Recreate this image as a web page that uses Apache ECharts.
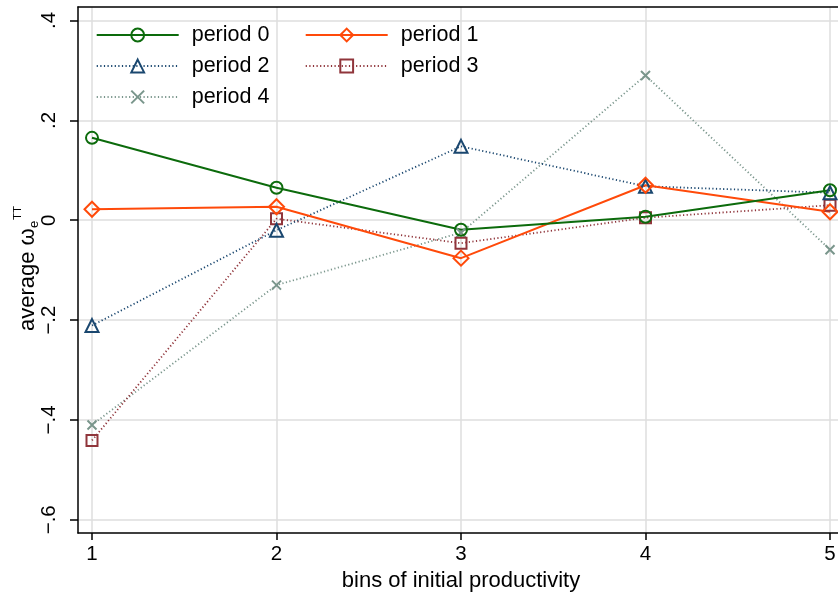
<meta charset="utf-8">
<script src="https://cdn.jsdelivr.net/npm/echarts/dist/echarts.min.js"></script>
<div id="main" style="position:absolute;left:0;top:0;width:838px;height:595px;"></div>

<script type="text/javascript">
// bins on x axis, one array per period
const bins = [1, 2, 3, 4, 5]
const period0 = [0.165, 0.065, -0.019, 0.007, 0.060]
const period1 = [0.022, 0.027, -0.076, 0.070, 0.017]
const period2 = [-0.211, -0.020, 0.148, 0.068, 0.055]
const period3 = [-0.441, 0.003, -0.046, 0.005, 0.030]
const period4 = [-0.410, -0.130, -0.025, 0.290, -0.059]
const names = ['period 0', 'period 1', 'period 2', 'period 3', 'period 4']

const FONT = 'Liberation Sans'
const grey = '#dedede'
const xPath = 'path://M0,0L10,10M10,0L0,10'

let myChart = echarts.init(main)

const yfmt = v => {
  if (Math.abs(v) < 1e-9) return '0'
  return (v < 0 ? '\u2212' : '') + '.' + Math.round(Math.abs(v) * 10)
}

const hidden = {show: false}
const mk = (name, vals, color, symbol, size, dotted, lw) => ({
  name: name,
  type: 'line',
  xAxisIndex: 4,
  yAxisIndex: 3,
  data: bins.map((b, i) => [b, vals[i]]),
  symbol: symbol,
  symbolSize: size,
  showAllSymbol: true,
  color: color,
  lineStyle: {color: color, width: lw, type: dotted ? [1.2, 2.4] : 'solid'},
  itemStyle: {color: 'rgba(0,0,0,0)', borderColor: color, borderWidth: 2},
  emphasis: {disabled: true},
  animation: false,
})

const legendBase = {
  orient: 'vertical',
  top: 24,
  itemWidth: 82,
  itemHeight: 16,
  itemGap: 9,
  padding: 0,
  selectedMode: false,
  textStyle: {fontFamily: FONT, fontSize: 21.5, color: '#000', lineHeight: 20, padding: [0, 0, 0, 8]},
}

const option = {
  backgroundColor: '#fff',
  animation: false,
  textStyle: {fontFamily: FONT},
  grid: [
    // outer frame
    {left: 78, top: 7, right: -10, bottom: 62, containLabel: false, outerBoundsMode: 'none'},
    // horizontal grid lines / y ticks
    {left: 78, top: 20.5, right: -10, height: 499.3, containLabel: false, outerBoundsMode: 'none'},
    // vertical grid lines / x ticks
    {left: 92, top: 7, right: 8, bottom: 62, containLabel: false, outerBoundsMode: 'none'},
    // data
    {left: 92, top: 20.5, right: 8, height: 499.3, containLabel: false, outerBoundsMode: 'none'},
  ],
  legend: [
    Object.assign({left: 95.7, data: ['period 0', 'period 2', 'period 4']}, legendBase),
    Object.assign({left: 304.7, data: ['period 1', 'period 3']}, legendBase),
  ],
  xAxis: [
    {gridIndex: 0, type: 'value', min: 0, max: 1, position: 'bottom', z: 5,
     axisLine: {show: true, lineStyle: {color: '#000', width: 1.5}},
     axisTick: hidden, axisLabel: hidden, splitLine: hidden},
    {gridIndex: 0, type: 'value', min: 0, max: 1, position: 'top', z: 5,
     axisLine: {show: true, lineStyle: {color: '#000', width: 1.5}},
     axisTick: hidden, axisLabel: hidden, splitLine: hidden},
    {gridIndex: 1, type: 'value', min: 0, max: 1, show: false},
    {gridIndex: 2, type: 'value', min: 1, max: 5, interval: 1,
     name: 'bins of initial productivity', nameLocation: 'middle', nameGap: 35,
     nameTextStyle: {fontFamily: FONT, fontSize: 22, color: '#000'},
     axisLine: {show: false},
     axisTick: {show: true, length: 7, lineStyle: {color: '#000', width: 1.5}},
     axisLabel: {fontFamily: FONT, fontSize: 20.5, color: '#000', margin: 11},
     splitLine: {show: true, lineStyle: {color: grey, width: 1.5}}},
    {gridIndex: 3, type: 'value', min: 1, max: 5, show: false},
  ],
  yAxis: [
    {gridIndex: 0, type: 'value', min: 0, max: 1, position: 'left', z: 5,
     axisLine: {show: true, lineStyle: {color: '#000', width: 1.5}},
     axisTick: hidden, axisLabel: hidden, splitLine: hidden},
    {gridIndex: 1, type: 'value', min: -0.6, max: 0.4, interval: 0.2,
     axisLine: {show: false},
     axisTick: {show: true, length: 8, lineStyle: {color: '#000', width: 1.5}},
     axisLabel: {fontFamily: FONT, fontSize: 20.5, color: '#000', rotate: 90, margin: 18, formatter: yfmt},
     splitLine: {show: true, lineStyle: {color: grey, width: 1.5}}},
    {gridIndex: 2, type: 'value', min: 0, max: 1, show: false},
    {gridIndex: 3, type: 'value', min: -0.6, max: 0.4, show: false},
  ],
  graphic: [{
    type: 'group', x: 28, y: 331, rotation: Math.PI / 2,
    children: [
      {type: 'text', x: 0, y: 0, style: {text: 'average \u03c9', fontFamily: FONT, fontSize: 22, fill: '#000', verticalAlign: 'middle'}},
      {type: 'text', x: 103, y: 6, style: {text: 'e', fontFamily: FONT, fontSize: 13, fill: '#000', verticalAlign: 'middle'}},
      {type: 'text', x: 111, y: -10, style: {text: 'TT', fontFamily: FONT, fontSize: 11.5, fill: '#000', verticalAlign: 'middle'}},
    ],
  }],
  series: [
    mk(names[4], period4, '#7a968c', xPath, 9, true, 1.8),
    mk(names[3], period3, '#90353b', 'rect', 11, true, 1.8),
    mk(names[2], period2, '#1a476f', 'triangle', 13, true, 1.8),
    mk(names[1], period1, '#ff4a0a', 'diamond', 15, false, 2),
    mk(names[0], period0, '#0c6b0c', 'circle', 12, false, 2),
  ],
}

myChart.setOption(option)
</script>
